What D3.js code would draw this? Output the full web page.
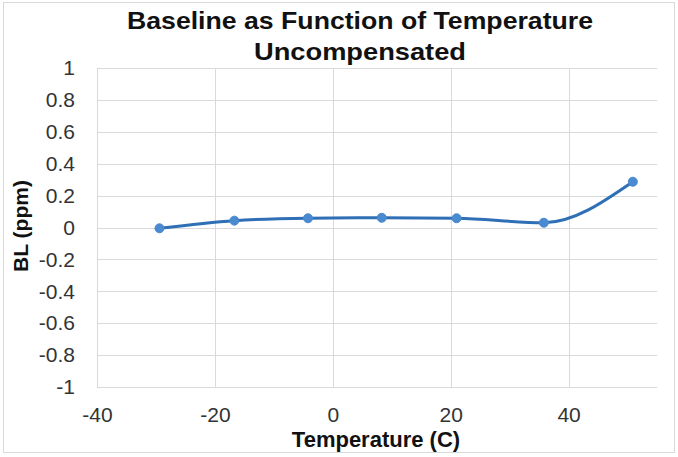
<!DOCTYPE html>
<html><head><meta charset="utf-8">
<script src="https://cdn.jsdelivr.net/npm/d3@7"></script>
<style>body{margin:0;background:#fff;} svg{display:block;font-family:"Liberation Sans",Arial,sans-serif;}</style>
</head><body>
<svg id="c" width="678" height="457"></svg>
<script>
const temperature = [-29.4, -16.7, -4.2, 8.3, 21.0, 35.8, 50.9];
const baseline = [-0.005, 0.043, 0.058, 0.061, 0.058, 0.030, 0.287];
const xTicks = [-40, -20, 0, 20, 40];
const yTicks = [-1, -0.8, -0.6, -0.4, -0.2, 0, 0.2, 0.4, 0.6, 0.8, 1];
const titleLines = ["Baseline as Function of Temperature", "Uncompensated"];

const svg = d3.select("#c");
const L = 97, R = 657, T = 68, B = 387;
const x = d3.scaleLinear().domain([-40, 55]).range([L, R]);
const y = d3.scaleLinear().domain([-1, 1]).range([B, T]);
const fmt = d => String(+(+d).toFixed(1));

svg.append("rect").attr("x",3.5).attr("y",2.5).attr("width",671).attr("height",450)
  .attr("fill","#fff").attr("stroke","#d9d9d9");

const grid = svg.append("g").attr("stroke","#d9d9d9").attr("stroke-width",1);
yTicks.forEach(v => grid.append("line").attr("x1",L).attr("x2",R)
  .attr("y1",Math.round(y(v))+0.5).attr("y2",Math.round(y(v))+0.5));
xTicks.forEach(v => grid.append("line").attr("y1",T).attr("y2",B)
  .attr("x1",Math.round(x(v))+0.5).attr("x2",Math.round(x(v))+0.5));

const yAxis = svg.append("g").attr("transform",`translate(${L},0)`)
  .call(d3.axisLeft(y).tickValues(yTicks).tickSize(0).tickPadding(22).tickFormat(fmt));
yAxis.select(".domain").remove();
yAxis.selectAll("text").attr("font-size",21).attr("fill","#333").attr("font-family","Liberation Sans, Arial, sans-serif");

const xAxis = svg.append("g").attr("transform",`translate(0,${B})`)
  .call(d3.axisBottom(x).tickValues(xTicks).tickSize(0).tickPadding(20).tickFormat(fmt));
xAxis.select(".domain").remove();
xAxis.selectAll("text").attr("font-size",21).attr("fill","#333").attr("font-family","Liberation Sans, Arial, sans-serif");

const pts = temperature.map((t,i)=>[t, baseline[i]]);
svg.append("path").datum(pts)
  .attr("d", d3.line().x(d=>x(d[0])).y(d=>y(d[1])).curve(d3.curveMonotoneX))
  .attr("fill","none").attr("stroke","#2e6fb5").attr("stroke-width",3);
svg.selectAll("circle.pt").data(pts).join("circle").attr("class","pt")
  .attr("cx",d=>x(d[0])).attr("cy",d=>y(d[1])).attr("r",4.5)
  .attr("fill","#4a8ad0").attr("stroke","#4a8ad0");

const titleW = [466, 212];
titleLines.forEach((s,i)=> svg.append("text").attr("x",360).attr("y",29 + i*31)
  .attr("text-anchor","middle").attr("font-weight","bold").attr("font-size",24).attr("fill","#111")
  .attr("textLength",titleW[i]).attr("lengthAdjust","spacingAndGlyphs").text(s));

svg.append("text").attr("x",376).attr("y",447).attr("text-anchor","middle")
  .attr("font-weight","bold").attr("font-size",22).attr("fill","#111").text("Temperature (C)");
svg.append("text").attr("transform","translate(28,226) rotate(-90)").attr("text-anchor","middle")
  .attr("font-weight","bold").attr("font-size",21).attr("fill","#111").text("BL (ppm)");
</script>
</body></html>
